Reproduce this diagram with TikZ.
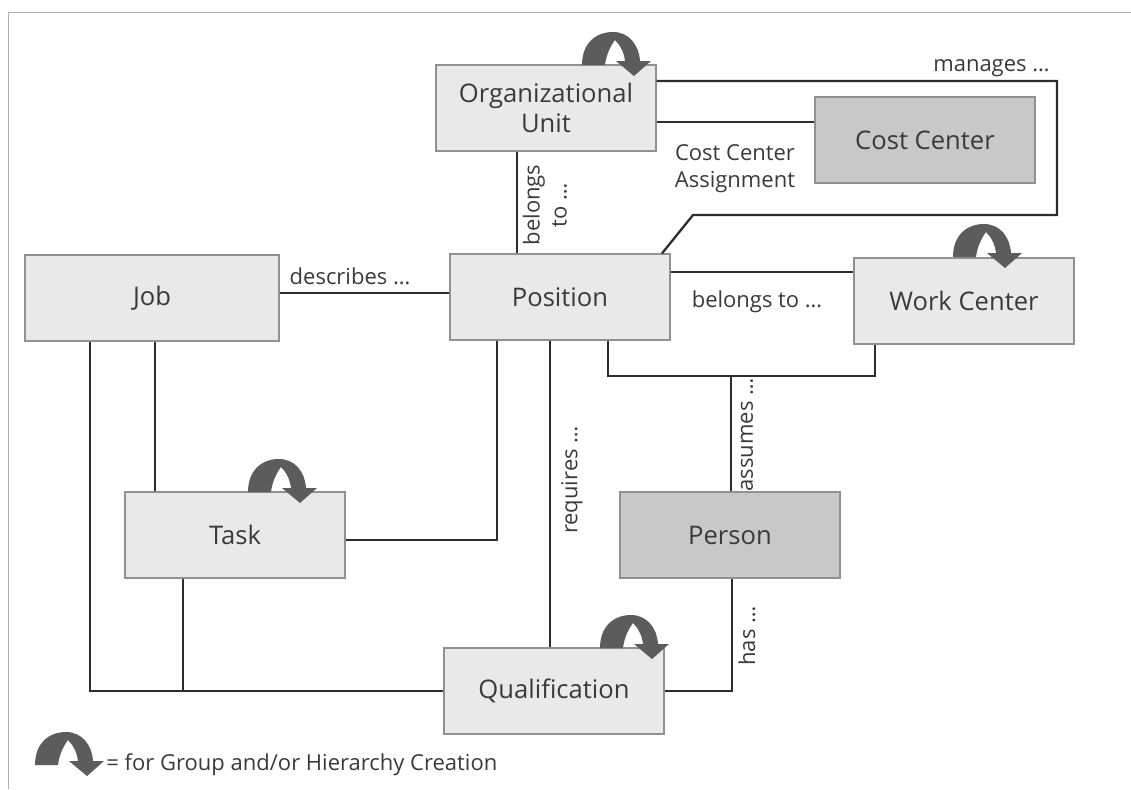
\documentclass[tikz,border=0pt]{standalone}
\usepackage{fontspec}
\setmainfont{Open Sans}
\usepackage{xcolor}
\usepackage{tikz}
\usetikzlibrary{positioning, calc}
\definecolor{omfill}{RGB}{233,233,233}
\definecolor{omdark}{RGB}{200,200,200}
\definecolor{omborder}{RGB}{145,145,145}
\definecolor{omline}{RGB}{45,45,45}
\definecolor{omtext}{RGB}{58,58,58}
\definecolor{omarrow}{RGB}{92,92,92}
\definecolor{omframe}{RGB}{175,175,175}

\tikzset{
  objbox/.style={draw=omborder, fill=omfill, line width=0.6pt, text=omtext,
    minimum width=110pt, minimum height=43pt, align=center,
    font=\fontsize{12.8}{15}\selectfont, inner sep=0pt},
  objdark/.style={objbox, fill=omdark},
  conn/.style={draw=omline, line width=1.15pt},
  lbl/.style={text=omtext, font=\fontsize{11}{13.5}\selectfont, align=center, inner sep=0pt},
  hier/.pic={
    \fill[omarrow] (0,0) .. controls (0,-22) and (14,-33) .. (31,-33)
      .. controls (47,-33) and (57,-20) .. (58,-4) -- (69,-4) -- (52,11)
      -- (34,-4) -- (43,-4) .. controls (42,-13) and (38,-20) .. (33,-25)
      .. controls (27,-17) and (24,-8) .. (23,0) -- cycle;
  }
}

\begin{document}
\begin{tikzpicture}[x=0.5pt, y=-0.5pt]
\useasboundingbox (0,0) rectangle (1131,789);
% page frame
\draw[omframe, line width=0.5pt] (8,789) -- (8,12) -- (1131,12);

% ---- objects ----
\node[objbox] (orgunit) at (546,108) {Organizational\\Unit};
\node[objdark] (costcenter) at (925,140) {Cost Center};
\node[objbox, minimum width=127pt] (job) at (152,298) {Job};
\node[objbox] (position) at (560,297) {Position};
\node[objbox] (workcenter) at (964,301) {Work Center};
\node[objbox] (task) at (235,535) {Task};
\node[objdark] (person) at (730,535) {Person};
\node[objbox] (qualification) at (554,691) {Qualification};

% ---- relations ----
\draw[conn] (orgunit.east |- 0,122) -- (costcenter.west |- 0,122);
\coordinate (mgright) at (1057,215);
\draw[conn] (orgunit.east |- 0,81) -| (mgright) -- (693,215)
  -- (position.north -| 662,0);
\draw[conn] (orgunit.south -| 517,0) -- (position.north -| 517,0);
\draw[conn] (job.east |- 0,293) -- (position.west |- 0,293);
\draw[conn] (position.east |- 0,272) -- (workcenter.west |- 0,272);
\coordinate (pwjoin) at (731,376);
\draw[conn] (position.south -| 608,0) |- (pwjoin) -| (workcenter.south -| 875,0);
\draw[conn] (pwjoin) -- (person.north -| pwjoin);
\draw[conn] (position.south -| 550,0) -- (qualification.north -| 550,0);
\draw[conn] (position.south -| 497,0) |- (task.east |- 0,540);
\draw[conn] (job.south -| 155,0) -- (task.north -| 155,0);
\draw[conn] (job.south -| 90,0) |- (qualification.west);
\draw[conn] (task.south -| 183,0) -- (183,691);
\draw[conn] (qualification.east) -| (person.south -| 732,0);

% ---- labels ----
\node[lbl, anchor=east] (lmanages) at (1050,68) {manages \dots};
\node[lbl] (lassign) at (735,169) {Cost Center\\Assignment};
\node[lbl, rotate=90] (lbelongs) at (545,205) {belongs\\to \dots};
\node[lbl] (ldescribes) at (350,276) {describes \dots};
\node[lbl] (lbelongswc) at (757,302) {belongs to \dots};
\node[lbl, rotate=90] (lassumes) at (747,435) {assumes \dots};
\node[lbl, rotate=90] (lrequires) at (572,480) {requires \dots};
\node[lbl, rotate=90] (lhas) at (747,636) {has \dots};

% ---- group / hierarchy icons ----
\foreach \x/\y in {582/65, 953/257, 248/492, 600/648}
  \pic at (\x,\y) {hier};

% ---- legend ----
\pic at (35,765) {hier};
\node[lbl, anchor=west] (legend) at (106,765) {= for Group and/or Hierarchy Creation};
\end{tikzpicture}
\end{document}
